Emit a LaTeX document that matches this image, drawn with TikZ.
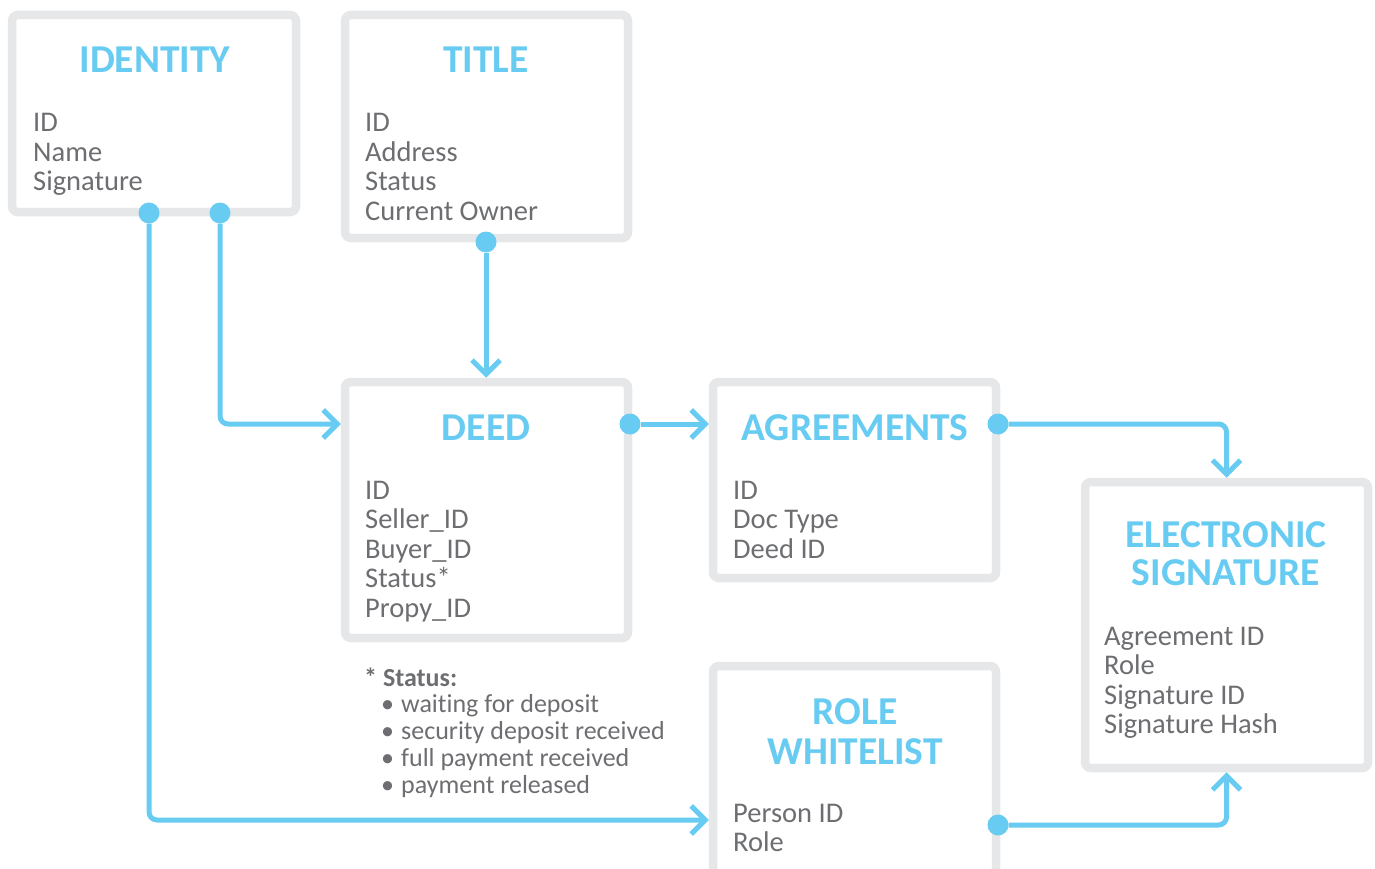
\documentclass[tikz,border=0pt]{standalone}
\usepackage{fontspec}
\setmainfont{Carlito}[Ligatures=CommonOff]
\usetikzlibrary{arrows.meta,calc}
\definecolor{cblue}{HTML}{68CCF2}
\definecolor{cgray}{HTML}{E6E7E8}
\definecolor{ctext}{HTML}{6D6E71}
\tikzset{
 entity/.style={draw=cgray, line width=8.5pt, rounded corners=6pt, fill=white, inner sep=0, rectangle},
 ttl/.style={text=cblue, font=\fontsize{39.5}{40}\selectfont\bfseries, anchor=base, inner sep=0},
 fld/.style={text=ctext, font=\fontsize{28.5}{29.5}\selectfont, anchor=base west, inner sep=0},
 note/.style={text=ctext, font=\fontsize{26}{27}\selectfont, anchor=base west, inner sep=0},
 dot/.style={circle, fill=cblue, minimum size=21pt, inner sep=0},
 conn/.style={draw=cblue, line width=5pt, rounded corners=8pt, -{Straight Barb[length=14pt,width=28pt]}},
}
\newcommand{\bul}{\makebox[20pt][l]{•}}
\newcommand{\llines}[1]{\begin{tabular}[t]{@{}l@{}}#1\end{tabular}}
\newcommand{\clines}[1]{\begin{tabular}[t]{@{}c@{}}#1\end{tabular}}
\begin{document}
\begin{tikzpicture}[x=1pt,y=-1pt]
\useasboundingbox (0,0) rectangle (1375,869);
% boxes
\node[entity, minimum width=284pt, minimum height=197pt] (identity) at (154,113.5) {};
\node[entity, minimum width=283pt, minimum height=223pt] (title) at (486.5,126.5) {};
\node[entity, minimum width=283pt, minimum height=256pt] (deed) at (486.5,510) {};
\node[entity, minimum width=283pt, minimum height=196pt] (agr) at (854.5,480) {};
\node[entity, minimum width=283pt, minimum height=286pt] (es) at (1226.5,625) {};
\node[entity, minimum width=283pt, minimum height=234pt] (role) at (854.5,783) {};
% titles
\node[ttl] (tidentity) at (155,73) {IDENTITY};
\node[ttl] (ttitle) at (486,73) {TITLE};
\node[ttl] (tdeed) at (486,440) {DEED};
\node[ttl] (tagr) at (855,440) {AGREEMENTS};
\node[ttl] (tes) at (1226,547) {\renewcommand{\arraystretch}{0.96}\clines{ELECTRONIC\\SIGNATURE}};
\node[ttl] (trole) at (855,724) {\renewcommand{\arraystretch}{1.0}\clines{ROLE\\WHITELIST}};
% fields
\node[fld] (fidentity) at (33,132) {\llines{ID\\Name\\Signature}};
\node[fld] (ftitle) at (365,132) {\llines{ID\\Address\\Status\\Current Owner}};
\node[fld] (fdeed) at (365,499) {\llines{ID\\Seller\_ID\\Buyer\_ID\\Status*\\Propy\_ID}};
\node[fld] (fagr) at (733,499) {\llines{ID\\Doc Type\\Deed ID}};
\node[fld] (fes) at (1104,645) {\llines{Agreement ID\\Role\\Signature ID\\Signature Hash}};
\node[fld] (frole) at (733,822) {\llines{Person ID\\Role}};
% note
\node[note, font=\fontsize{26}{27}\selectfont\bfseries] (nhead) at (364,686) {* Status:};
\node[note] (nlist) at (381,712) {\llines{\bul waiting for deposit\\\bul security deposit received\\\bul full payment received\\\bul payment released}};
% dots
\node[dot] (idd1) at (149,213) {};
\node[dot] (idd2) at (220,213) {};
\node[dot] (titd) at (486,242) {};
\node[dot] (deedd) at (630,424) {};
\node[dot] (agrd) at (998,424) {};
\node[dot] (roled) at (998,825) {};
\coordinate (rolein) at (role.west |- 0,820);
% connectors
\draw[conn] (idd2) |- (deed.west |- deedd);
\draw[conn] (idd1) |- (rolein);
\draw[conn] (titd) -- (deed.north -| titd);
\draw[conn] (deedd) -- (agr.west |- deedd);
\draw[conn] (agrd) -| (es.north);
\draw[conn] (roled) -| (es.south);
\end{tikzpicture}
\end{document}
